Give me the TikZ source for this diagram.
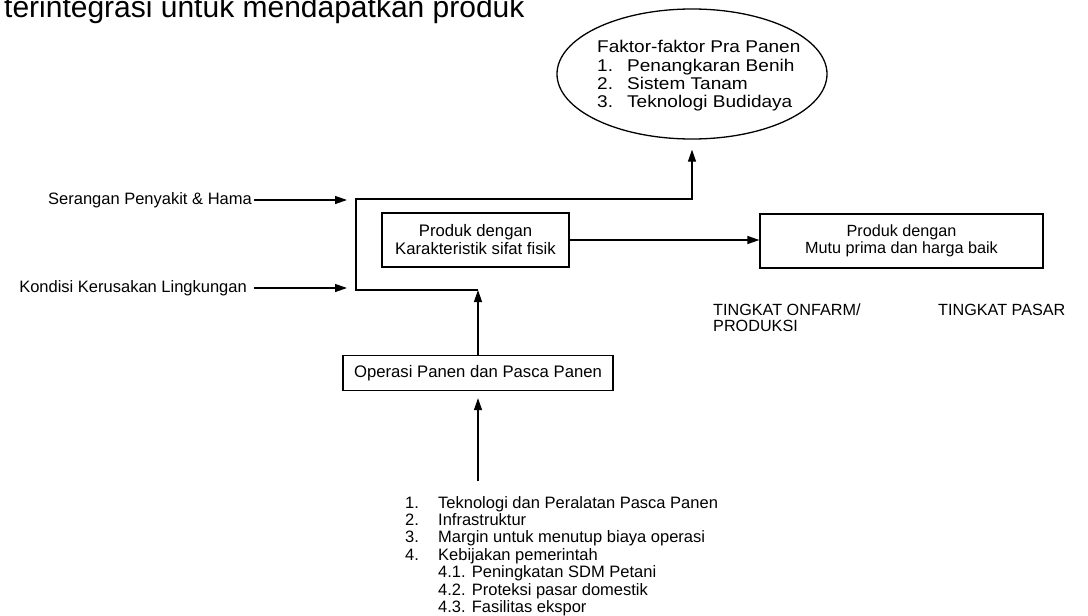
\documentclass[tikz,border=0pt]{standalone}
\usepackage{fontspec}
\setmainfont{Liberation Sans}
\newfontfamily\lebar{Liberation Sans}[FakeStretch=1.12]
\usetikzlibrary{arrows.meta,positioning,calc,shapes.geometric}
\tikzset{kotak/.style={draw,line width=1.3pt,align=center,inner sep=0pt},teks/.style={inner sep=0pt,align=left,font=\fontsize{16.5}{17.4}\selectfont},panah/.style={-{Triangle[length=12pt,width=8pt]},line width=1.3pt}}

\begin{document}
\begin{tikzpicture}[x=1pt,y=-1pt]
\useasboundingbox (0,0) rectangle (1088,616);
% judul yang terpotong di atas
\node[anchor=base west,inner sep=0pt,font=\fontsize{30}{32}\selectfont] (judul) at (4,17) {terintegrasi untuk mendapatkan produk};
% faktor pra panen
\node[ellipse,draw,line width=1.3pt,minimum width=270pt,minimum height=130pt] (pra) at (692,74) {};
\node[teks,anchor=west,font=\lebar\fontsize{17}{18.4}\selectfont] (prateks) at (597,76) {Faktor-faktor Pra Panen\\\makebox[30pt][l]{1.}Penangkaran Benih\\\makebox[30pt][l]{2.}Sistem Tanam\\\makebox[30pt][l]{3.}Teknologi Budidaya};
\node[kotak,minimum width=187pt,minimum height=54pt,font=\fontsize{16.7}{18}\selectfont] (karak) at (475.5,240) {Produk dengan\\Karakteristik sifat fisik};
\node[kotak,minimum width=283pt,minimum height=54pt,font=\fontsize{16.2}{17}\selectfont] (mutu) at (901.5,241) {Produk dengan\\Mutu prima dan harga baik};
\node[kotak,minimum width=270pt,minimum height=35pt,font=\fontsize{16.7}{18}\selectfont] (operasi) at (478,373) {Operasi Panen dan Pasca Panen};
\node[teks,anchor=east] (serangan) at (252,200) {Serangan Penyakit \& Hama};
\node[teks,anchor=east] (kondisi) at (247,288) {Kondisi Kerusakan Lingkungan};
\node[teks,anchor=north west,font=\fontsize{16.2}{16}\selectfont] (onfarm) at (713,304) {TINGKAT ONFARM/\\PRODUKSI};
\node[teks,anchor=north west,font=\fontsize{16.2}{16}\selectfont] (pasar) at (938,304) {TINGKAT PASAR};
\node[teks,anchor=north west] (daftar) at (405,496) {\makebox[33pt][l]{1.}Teknologi dan Peralatan Pasca Panen\\\makebox[33pt][l]{2.}Infrastruktur\\\makebox[33pt][l]{3.}Margin untuk menutup biaya operasi\\\makebox[33pt][l]{4.}Kebijakan pemerintah\\\hspace*{33pt}4.1. Peningkatan SDM Petani\\\hspace*{33pt}4.2. Proteksi pasar domestik\\\hspace*{33pt}4.3. Fasilitas ekspor};
\coordinate (sudutA) at (356,199);
\coordinate (sudutB) at (356,290);
\coordinate (ekor) at (478,481);
\draw[panah,shorten <=2pt,shorten >=9pt](serangan.east)--(serangan.east-|sudutA);
\draw[panah,shorten <=7pt,shorten >=9pt](kondisi.east)--(kondisi.east-|sudutB);
\draw[panah,shorten >=10pt](sudutB-|operasi.north)--(sudutB)--(sudutA)--(sudutA-|pra.south)--(pra.south);
\draw[panah](karak.east)--(karak.east-|mutu.west);
\draw[panah](operasi.north)--(operasi.north|-sudutB);
\draw[panah,shorten >=7pt](ekor)--(operasi.south);
\end{tikzpicture}
\end{document}
